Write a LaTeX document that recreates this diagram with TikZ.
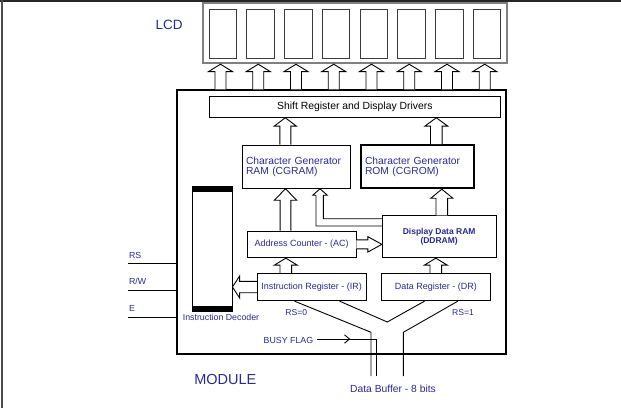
\documentclass[tikz,border=0pt]{standalone}
\usepackage{fontspec}
\setmainfont{Liberation Sans}
\usetikzlibrary{calc}
\definecolor{txtblue}{RGB}{40,40,150}
\definecolor{lcdgray}{RGB}{128,128,128}
\definecolor{cellgray}{RGB}{60,60,60}
\newcommand\fsz[1]{\fontsize{#1}{#1}\selectfont}
\tikzset{
  box/.style={draw=black, line width=0.9pt, inner sep=0pt, rectangle},
  cellbox/.style={draw=cellgray, line width=0.9pt, inner sep=0pt, minimum width=27.5pt, minimum height=49pt},
  blk/.style={draw=black, line width=0.9pt, fill=white, line join=miter},
  wire/.style={draw=black, line width=0.9pt},
  bluetxt/.style={text=txtblue, inner sep=0pt},
}
% vertical hollow block arrow: x, base anchor, tip anchor, head length, head half width, stem half width
\newcommand\blkv[6]{%
  \draw[blk] let \p1=(#2), \p2=(#3) in
    ({(#1)*1pt-(#6)*1pt},\y1) -- ({(#1)*1pt-(#6)*1pt},{\y2-(#4)*1pt})
    -- ({(#1)*1pt-(#5)*1pt},{\y2-(#4)*1pt}) -- ({(#1)*1pt},\y2)
    -- ({(#1)*1pt+(#5)*1pt},{\y2-(#4)*1pt}) -- ({(#1)*1pt+(#6)*1pt},{\y2-(#4)*1pt})
    -- ({(#1)*1pt+(#6)*1pt},\y1);}
% horizontal hollow block arrow: base anchor, tip anchor, head length, head half width, stem half width
\newcommand\blkh[5]{%
  \draw[blk] let \p1=(#1), \p2=(#2), \n1={sign(\x2-\x1)} in
    (\x1,{\y1+(#5)*1pt}) -- ({\x2-\n1*(#3)*1pt},{\y1+(#5)*1pt})
    -- ({\x2-\n1*(#3)*1pt},{\y1+(#4)*1pt}) -- (\x2,\y1)
    -- ({\x2-\n1*(#3)*1pt},{\y1-(#4)*1pt}) -- ({\x2-\n1*(#3)*1pt},{\y1-(#5)*1pt})
    -- (\x1,{\y1-(#5)*1pt});}
\begin{document}
\begin{tikzpicture}[x=1pt,y=-1pt]
\useasboundingbox (0,0) rectangle (621,408);
% frame lines
\draw[line width=1.6pt, black!85] (0,0.8) -- (621,0.8);
\draw[line width=1.4pt, black!70] (2,0) -- (2,408);

% LCD
\node[bluetxt, anchor=west, font=\fsz{13.5}] (lcdlbl) at (155.5,24.5) {LCD};
\node[draw=lcdgray, line width=1.8pt, minimum width=303.4pt, minimum height=60pt, inner sep=0pt] (lcd) at (355,33.3) {};
\foreach \i in {0,...,7} {
  \node[cellbox] (c\i) at ({222.75+37.75*\i},33.8) {};
}

% module
\node[box, line width=1.5pt, minimum width=329pt, minimum height=264pt] (module) at (341.5,222) {};
\node[bluetxt, font=\fsz{14.5}] (modlbl) at (225.3,379.3) {MODULE};

% arrows to LCD
\foreach \i in {0,...,7} {
  \blkv{220.5+37.75*\i}{module.north}{lcd.south}{7.4}{12}{5.5}
}

% inner boxes
\node[box, minimum width=291.7pt, minimum height=21.3pt, font=\fsz{10.4}] (shift) at (354.85,106.65) {Shift Register and Display Drivers};
\node[box, minimum width=108pt, minimum height=43.3pt, text width=101.4pt, align=left, inner xsep=3.3pt,
      text=txtblue, font=\fontsize{10.3}{9.4}\selectfont] (cgram) at (296.7,166.65) {Character Generator\\RAM (CGRAM)};
\node[box, line width=1.8pt, minimum width=113.6pt, minimum height=43.3pt, text width=105pt, align=left, inner xsep=4.3pt,
      text=txtblue, font=\fontsize{10.3}{9.4}\selectfont] (cgrom) at (417.5,166.65) {Character Generator\\ROM (CGROM)};
\node[box, minimum width=108.7pt, minimum height=26.7pt, text=txtblue, font=\fsz{9}] (ac) at (301.65,244.35) {Address Counter - (AC)};
\node[box, minimum width=113.7pt, minimum height=42pt, align=center, text=txtblue,
      font=\fontsize{8.5}{9.2}\selectfont\bfseries] (ddram) at (439.15,236.7) {Display Data RAM\\(DDRAM)};
\node[box, minimum width=108.7pt, minimum height=27.4pt, text=txtblue, font=\fsz{9}] (ir) at (311.65,287) {Instruction Register - (IR)};
\node[box, minimum width=108.3pt, minimum height=27.4pt, text=txtblue, font=\fsz{9}] (dr) at (435.85,287) {Data Register - (DR)};
\node[box, minimum width=39.7pt, minimum height=125pt] (dec) at (212.15,249.2) {};
\fill[black] (dec.north west) rectangle ($(dec.north east)+(0,5.3)$);
\fill[black] ($(dec.south west)+(0,-5.7)$) rectangle (dec.south east);
\node[bluetxt, font=\fsz{8.8}] (declbl) at (221,317.5) {Instruction Decoder};

% block arrows inside the module
\blkv{285.3}{cgram.north}{shift.south}{8.3}{11}{5.5}
\blkv{436.3}{cgrom.north}{shift.south}{8.3}{11.3}{5.8}
\blkv{285.5}{ac.north}{cgram.south}{11.5}{11.2}{5.4}
\blkv{441.8}{ddram.north}{cgrom.south}{9}{11}{5.8}
\blkv{285.8}{ir.north}{ac.south}{7}{11.5}{5.8}
\blkv{435.8}{dr.north}{ddram.south}{7}{11.5}{5.8}
\blkh{ac.east}{ddram.west}{14}{7.7}{4.5}
\blkh{ir.west}{dec.east}{7.2}{11}{5.7}
\draw[blk] let \p1=(ddram.west), \p2=(cgram.south) in
  (\x1,-226pt) -- (316pt,-226pt) -- (316pt,{\y2-6.5pt}) -- (312.7pt,{\y2-6.5pt})
  -- (320pt,\y2) -- (327.3pt,{\y2-6.5pt}) -- (323.3pt,{\y2-6.5pt})
  -- (323.3pt,-218.7pt) -- (\x1,-218.7pt);

% control inputs
\node[bluetxt, anchor=west, font=\fsz{8.8}] (rslbl) at (128.8,255) {RS};
\node[bluetxt, anchor=west, font=\fsz{8.8}] (rwlbl) at (128.8,281.7) {R/W};
\node[bluetxt, anchor=west, font=\fsz{8.8}] (elbl) at (128.8,308.3) {E};
\coordinate (rs0) at (128.3,263.3);
\coordinate (rw0) at (128.3,290.7);
\coordinate (e0) at (128.3,317.3);
\draw[wire] (rs0) -- (rs0 -| module.west);
\draw[wire] (rw0) -- (rw0 -| module.west);
\draw[wire] (e0) -- (e0 -| module.west);

% data bus
\node[bluetxt, font=\fsz{8.6}] (rs0lbl) at (296.2,312.3) {RS=0};
\node[bluetxt, font=\fsz{8.6}] (rs1lbl) at (463,312.3) {RS=1};
\coordinate (db1) at (371,376);
\coordinate (db2) at (376.7,376);
\coordinate (db3) at (403.3,376);
\coordinate (vtip) at (387.3,322);
\draw[wire] ($(ir.south west)+(37.7,0)$) -- (371,332.3) -- (db1);
\draw[wire] ($(ir.south west)+(82.7,0)$) -- (vtip) -- ($(dr.south west)+(43.3,0)$);
\draw[wire] ($(dr.south west)+(76.6,0)$) -- (403.3,332.3) -- (db3);
\node[bluetxt, anchor=east, font=\fsz{8.8}] (busy) at (313.3,340.7) {BUSY FLAG};
\draw[wire] ([xshift=4pt]busy.east |- 0,339) -- (376.7,339) -- (db2);
\draw[wire] (344.5,334.8) -- (349.5,339) -- (344.5,343.2);
\node[bluetxt, font=\fsz{10.3}] (dblbl) at (393,389) {Data Buffer - 8 bits};
\end{tikzpicture}
\end{document}
